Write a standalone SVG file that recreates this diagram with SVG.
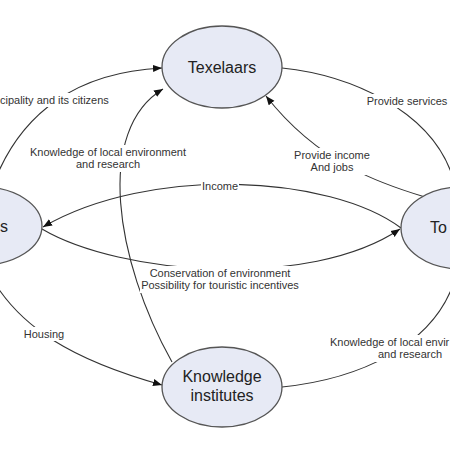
<svg xmlns="http://www.w3.org/2000/svg" width="450" height="450" viewBox="0 0 450 450">
<defs>
<marker id="arr" viewBox="0 0 10 10" refX="10" refY="5" markerWidth="9" markerHeight="9" markerUnits="userSpaceOnUse" orient="auto">
<path d="M0,1 L10,5 L0,9 Z" fill="#111"/>
</marker>
<style>
.node ellipse{fill:#e7eaf5;stroke:#555;stroke-width:1.3}
.node text{font-family:"Liberation Sans",Arial,sans-serif;font-size:16px;fill:#222}
.edge{fill:none;stroke:#333;stroke-width:1.1}
.lbl text{font-family:"Liberation Sans",Arial,sans-serif;font-size:11px;fill:#333;text-anchor:middle}
.lbl rect{fill:#fff}
</style>
</defs>
<rect width="450" height="450" fill="#fff"/>
<g id="connectors">
<path class="edge" d="M -8 188 C 20 110, 80 72, 162 68" marker-end="url(#arr)"/>
<path class="edge" d="M 282 68 C 350 75, 430 110, 452 175"/>
<path class="edge" d="M 425 197 C 385 185, 320 165, 266 96" marker-end="url(#arr)"/>
<path class="edge" d="M 172 362 C 115 260, 95 130, 163 89" marker-end="url(#arr)"/>
<path class="edge" d="M 401 228 C 330 175, 150 165, 43 227" marker-end="url(#arr)"/>
<path class="edge" d="M 42 229 C 120 275, 310 290, 400 229" marker-end="url(#arr)"/>
<path class="edge" d="M -15 265 C 15 330, 80 362, 162 385" marker-end="url(#arr)"/>
<path class="edge" d="M 282 387 C 350 380, 440 350, 458 268"/>
</g>
<g id="labels">
<g class="lbl"><rect x="0" y="93" width="112" height="14"/><text x="0" y="104" style="text-anchor:start">cipality and its citizens</text></g>
<g class="lbl"><rect x="364" y="94" width="86" height="14"/><text x="407" y="105">Provide services</text></g>
<g class="lbl"><rect x="292" y="148" width="82" height="27"/><text x="332" y="159">Provide income</text><text x="332" y="171">And jobs</text></g>
<g class="lbl"><rect x="27" y="145" width="163" height="27"/><text x="108" y="156">Knowledge of local environment</text><text x="108" y="168">and research</text></g>
<g class="lbl"><rect x="201" y="180" width="38" height="12"/><text x="220" y="190">Income</text></g>
<g class="lbl"><rect x="140" y="266" width="162" height="27"/><text x="220" y="277">Conservation of environment</text><text x="220" y="289">Possibility for touristic incentives</text></g>
<g class="lbl"><rect x="22" y="327" width="44" height="14"/><text x="44" y="338">Housing</text></g>
<g class="lbl"><rect x="328" y="335" width="122" height="27"/><text x="330" y="346" style="text-anchor:start">Knowledge of local envir</text><text x="410" y="358">and research</text></g>
</g>
<g id="node-texelaars" class="node"><ellipse cx="222" cy="67" rx="60" ry="41"/><text x="222" y="73" text-anchor="middle">Texelaars</text></g>
<g id="node-left" class="node"><ellipse cx="-18" cy="226" rx="60" ry="39"/><text x="0" y="232">s</text></g>
<g id="node-tourists" class="node"><ellipse cx="461" cy="228" rx="60" ry="41"/><text x="430" y="233">To</text></g>
<g id="node-knowledge" class="node"><ellipse cx="222" cy="387" rx="60" ry="40"/><text x="222" y="382" text-anchor="middle">Knowledge</text><text x="222" y="401" text-anchor="middle">institutes</text></g>
</svg>
